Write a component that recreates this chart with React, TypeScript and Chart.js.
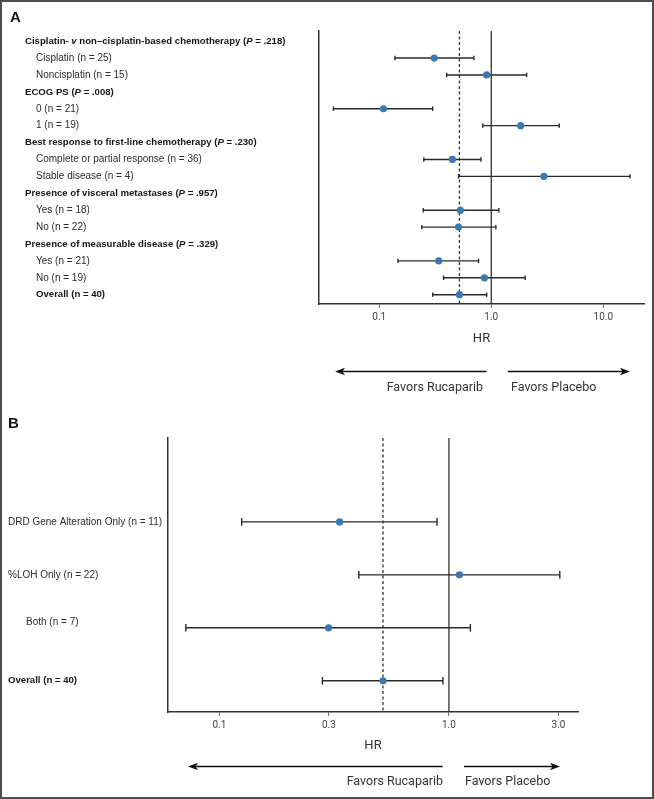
import React, { useEffect, useRef } from 'react';
import { Chart, registerables } from 'chart.js';

Chart.register(...registerables);

// ---------- Panel A data ----------
const A_LABELS = [
  'Cisplatin- v non–cisplatin-based chemotherapy (P = .218)',
  'Cisplatin (n = 25)',
  'Noncisplatin (n = 15)',
  'ECOG PS (P = .008)',
  '0 (n = 21)',
  '1 (n = 19)',
  'Best response to first-line chemotherapy (P = .230)',
  'Complete or partial response (n = 36)',
  'Stable disease (n = 4)',
  'Presence of visceral metastases (P = .957)',
  'Yes (n = 18)',
  'No (n = 22)',
  'Presence of measurable disease (P = .329)',
  'Yes (n = 21)',
  'No (n = 19)',
  'Overall (n = 40)',
];
const A_HR = [null, 0.31, 0.91, null, 0.109, 1.83, null, 0.45, 2.95, null, 0.53, 0.51, null, 0.34, 0.87, 0.52];
const A_LO = [null, 0.138, 0.4, null, 0.039, 0.84, null, 0.25, 0.51, null, 0.247, 0.24, null, 0.147, 0.375, 0.3];
const A_HI = [null, 0.7, 2.07, null, 0.3, 4.05, null, 0.81, 17.3, null, 1.17, 1.1, null, 0.77, 2.01, 0.91];
const A_TICKS = [0.1, 1, 10];

// ---------- Panel B data ----------
const B_LABELS = [
  'DRD Gene Alteration Only (n = 11)',
  '%LOH Only (n = 22)',
  'Both (n = 7)',
  'Overall (n = 40)',
];
const B_HR = [0.334, 1.11, 0.299, 0.516];
const B_LO = [0.125, 0.405, 0.0714, 0.281];
const B_HI = [0.887, 3.04, 1.24, 0.942];
const B_TICKS = [0.1, 0.3, 1, 3];

const LEFT_TEXT = 'Favors Rucaparib';
const RIGHT_TEXT = 'Favors Placebo';
const X_TITLE = 'HR';

// ---------- styles ----------
const A_BOLD = [true, false, false, true, false, false, true, false, false, true, false, false, true, false, false, true];
const A_INDENT = [25, 36, 36, 25, 36, 36, 25, 36, 36, 25, 36, 36, 25, 36, 36, 36];
const B_BOLD = [false, false, false, true];
const B_INDENT = [8, 8, 26, 8];
const B_DY = [0, 0, -6, 0];

const POINT_COLOR = '#3a78b5';
const CI_COLOR = '#2a2a2a';
const LABEL_FONT = '"Liberation Sans", Arial, Helvetica, sans-serif';

function drawRich(ctx: CanvasRenderingContext2D, text: string, x: number, y: number, bold: boolean, size: number) {
  const parts = text.split(/(\bv\b|\bP\b)/);
  let cx = x;
  for (const p of parts) {
    if (!p) continue;
    const italic = p === 'v' || p === 'P';
    ctx.font = `${italic ? 'italic ' : ''}${bold ? 'bold ' : ''}${size}px ${LABEL_FONT}`;
    ctx.fillText(p, cx, y);
    cx += ctx.measureText(p).width;
  }
}

function drawArrow(ctx: CanvasRenderingContext2D, xFrom: number, xTo: number, y: number) {
  const dir = Math.sign(xTo - xFrom);
  ctx.strokeStyle = '#111';
  ctx.fillStyle = '#111';
  ctx.lineWidth = 1.3;
  ctx.beginPath();
  ctx.moveTo(xFrom, y);
  ctx.lineTo(xTo - dir * 6, y);
  ctx.stroke();
  ctx.beginPath();
  ctx.moveTo(xTo, y);
  ctx.lineTo(xTo - dir * 10, y - 3.8);
  ctx.lineTo(xTo - dir * 7.5, y);
  ctx.lineTo(xTo - dir * 10, y + 3.8);
  ctx.closePath();
  ctx.fill();
}

type PanelCfg = {
  letter: string;
  letterX: number;
  letterY: number;
  labels: string[];
  bold: boolean[];
  indent: number[];
  dy?: number[];
  boldSize: number;
  regSize: number;
  arrowY: number;
  leftArrow: [number, number];
  rightArrow: [number, number];
  textY: number;
  leftTextX: number;
  rightTextX: number;
};

function makeAnnot(cfg: PanelCfg) {
  return {
    id: 'annot' + cfg.letter,
    afterDraw(chart: any) {
      const ctx: CanvasRenderingContext2D = chart.ctx;
      const ys = chart.scales.y;
      ctx.save();
      ctx.textBaseline = 'middle';
      ctx.textAlign = 'left';
      ctx.fillStyle = '#111';
      ctx.font = `bold 15px ${LABEL_FONT}`;
      ctx.fillText(cfg.letter, cfg.letterX, cfg.letterY);
      cfg.labels.forEach((t, i) => {
        const b = cfg.bold[i];
        ctx.fillStyle = b ? '#151515' : '#2b2b2b';
        const y = ys.getPixelForValue(i) + (cfg.dy ? cfg.dy[i] : 0);
        drawRich(ctx, t, cfg.indent[i], y, b, b ? cfg.boldSize : cfg.regSize);
      });
      drawArrow(ctx, cfg.leftArrow[0], cfg.leftArrow[1], cfg.arrowY);
      drawArrow(ctx, cfg.rightArrow[0], cfg.rightArrow[1], cfg.arrowY);
      ctx.fillStyle = '#333';
      ctx.font = '12.5px Roboto, "Liberation Sans", sans-serif';
      ctx.textAlign = 'right';
      ctx.fillText(LEFT_TEXT, cfg.leftTextX, cfg.textY);
      ctx.textAlign = 'left';
      ctx.fillText(RIGHT_TEXT, cfg.rightTextX, cfg.textY);
      ctx.restore();
    },
  };
}

function buildDatasets(hr: (number | null)[], lo: (number | null)[], hi: (number | null)[], yMin: number, yMax: number, capR: number) {
  const ds: any[] = [];
  const overall = hr[hr.length - 1] as number;
  ds.push({
    data: hr.map((v, i) => (v == null ? null : { x: v, y: i })).filter(Boolean),
    pointRadius: 3.6,
    pointBackgroundColor: POINT_COLOR,
    pointBorderWidth: 0,
    showLine: false,
    order: 0,
  });
  lo.forEach((l, i) => {
    if (l == null || hi[i] == null) return;
    ds.push({
      data: [
        { x: l, y: i },
        { x: hi[i], y: i },
      ],
      showLine: true,
      borderColor: CI_COLOR,
      borderWidth: 1.4,
      pointStyle: 'line',
      pointRotation: 90,
      pointRadius: capR,
      pointBorderColor: CI_COLOR,
      pointBorderWidth: 1.4,
      order: 1,
    });
  });
  ds.push({
    data: [
      { x: overall, y: yMin },
      { x: overall, y: yMax },
    ],
    showLine: true,
    borderColor: '#333',
    borderWidth: 1.3,
    borderDash: [3, 2.5],
    pointRadius: 0,
    order: 2,
  });
  ds.push({
    data: [
      { x: 1, y: yMin },
      { x: 1, y: yMax },
    ],
    showLine: true,
    borderColor: '#333',
    borderWidth: 1.3,
    pointRadius: 0,
    order: 2,
  });
  return ds;
}

function buildConfig(opts: {
  hr: (number | null)[];
  lo: (number | null)[];
  hi: (number | null)[];
  ticks: number[];
  xMin: number;
  xMax: number;
  yMin: number;
  yMax: number;
  capR: number;
  padding: { left: number; right: number; top: number; bottom: number };
  axisH: number;
  titlePadBottom: number;
  annot: PanelCfg;
}) {
  return {
    type: 'scatter',
    data: { datasets: buildDatasets(opts.hr, opts.lo, opts.hi, opts.yMin, opts.yMax, opts.capR) },
    options: {
      responsive: false,
      animation: false,
      events: [],
      layout: { padding: opts.padding },
      plugins: { legend: { display: false }, tooltip: { enabled: false } },
      scales: {
        x: {
          type: 'logarithmic',
          position: 'bottom',
          min: opts.xMin,
          max: opts.xMax,
          afterBuildTicks: (axis: any) => {
            axis.ticks = opts.ticks.map((v) => ({ value: v }));
          },
          afterFit: (s: any) => {
            s.height = opts.axisH;
          },
          ticks: {
            callback: (v: any) => Number(v).toFixed(1),
            font: { family: 'Roboto', size: 10 },
            color: '#444',
            padding: 3,
            maxRotation: 0,
            autoSkip: false,
          },
          grid: { display: true, drawOnChartArea: false, drawTicks: true, tickLength: 4, color: '#777', lineWidth: 1 },
          border: { display: true, color: '#333', width: 1.5 },
          title: {
            display: true,
            text: X_TITLE,
            font: { family: 'Roboto', size: 13 },
            color: '#333',
            padding: { top: 0, bottom: opts.titlePadBottom },
          },
        },
        y: {
          type: 'linear',
          reverse: true,
          min: opts.yMin,
          max: opts.yMax,
          afterFit: (s: any) => {
            s.width = 0;
          },
          ticks: { display: false },
          grid: { display: false, drawTicks: false },
          border: { display: true, color: '#333', width: 1.5 },
        },
      },
    },
    plugins: [makeAnnot(opts.annot)],
  };
}

export default function App() {
  const refA = useRef<HTMLCanvasElement>(null);
  const refB = useRef<HTMLCanvasElement>(null);

  useEffect(() => {
    const cfgA = buildConfig({
      hr: A_HR,
      lo: A_LO,
      hi: A_HI,
      ticks: A_TICKS,
      xMin: 0.029,
      xMax: 23.1,
      yMin: -0.6,
      yMax: 15.55,
      capR: 2.2,
      padding: { left: 319, right: 10, top: 31, bottom: 51 },
      axisH: 45,
      titlePadBottom: 2,
      annot: {
        letter: 'A',
        letterX: 10,
        letterY: 18,
        labels: A_LABELS,
        bold: A_BOLD,
        indent: A_INDENT,
        boldSize: 9.6,
        regSize: 10,
        arrowY: 371.5,
        leftArrow: [486.7, 335],
        rightArrow: [507.7, 630],
        textY: 388,
        leftTextX: 483,
        rightTextX: 511,
      },
    });
    const cfgB = buildConfig({
      hr: B_HR,
      lo: B_LO,
      hi: B_HI,
      ticks: B_TICKS,
      xMin: 0.0597,
      xMax: 3.65,
      yMin: -1.585,
      yMax: 3.59,
      capR: 3.8,
      padding: { left: 168, right: 76, top: 38, bottom: 42 },
      axisH: 45,
      titlePadBottom: 3,
      annot: {
        letter: 'B',
        letterX: 8,
        letterY: 24,
        labels: B_LABELS,
        bold: B_BOLD,
        indent: B_INDENT,
        dy: B_DY,
        boldSize: 9.6,
        regSize: 10,
        arrowY: 366.5,
        leftArrow: [442.7, 188],
        rightArrow: [464, 560],
        textY: 382,
        leftTextX: 443,
        rightTextX: 465,
      },
    });
    const a = new Chart(refA.current as HTMLCanvasElement, cfgA as any);
    const b = new Chart(refB.current as HTMLCanvasElement, cfgB as any);
    return () => {
      a.destroy();
      b.destroy();
    };
  }, []);

  return (
    <div style={{ position: 'absolute', left: 0, top: 0, width: 654, height: 799, background: '#fff' }}>
      <canvas ref={refA} width={654} height={400} style={{ position: 'absolute', left: 0, top: 0, width: 654, height: 400 }} />
      <canvas ref={refB} width={654} height={399} style={{ position: 'absolute', left: 0, top: 400, width: 654, height: 399 }} />
      <div
        style={{
          position: 'absolute',
          left: 0,
          top: 0,
          width: 654,
          height: 799,
          boxSizing: 'border-box',
          border: '2px solid #4d4d4d',
          pointerEvents: 'none',
        }}
      />
    </div>
  );
}
